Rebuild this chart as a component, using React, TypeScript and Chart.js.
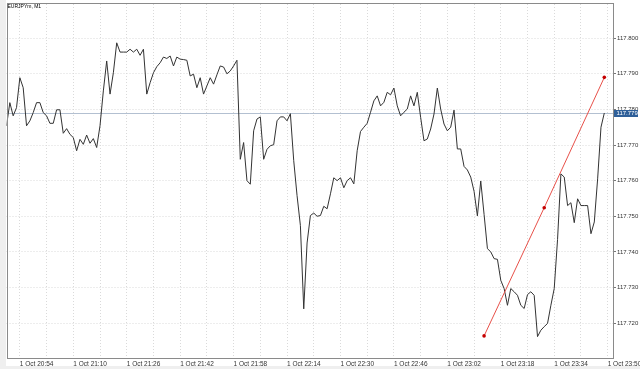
import React, { useEffect, useRef } from "react";
import { Chart, registerables } from "chart.js";

Chart.register(...registerables);

const symbolTitle = "EURJPYm, M1";

// One close per M1 bar, 1 Oct 20:50 .. 23:49
const closes: number[] = [
  117.7754, 117.7819, 117.7782, 117.7805, 117.7889, 117.7861, 117.7754, 117.7768, 117.7791, 117.7819,
  117.7819, 117.7791, 117.7782, 117.7761, 117.7761, 117.7799, 117.7799, 117.7733, 117.7746, 117.773,
  117.7721, 117.7684, 117.7716, 117.7702, 117.7728, 117.7705, 117.7718, 117.7693, 117.7754, 117.7852,
  117.7936, 117.7843, 117.7903, 117.7987, 117.7961, 117.7961, 117.7961, 117.7969, 117.7961, 117.7969,
  117.7952, 117.7969, 117.7843, 117.7875, 117.7903, 117.792, 117.7931, 117.7947, 117.7943, 117.795,
  117.7922, 117.7947, 117.7941, 117.794, 117.7938, 117.7894, 117.7899, 117.7861, 117.7889, 117.7843,
  117.7866, 117.7889, 117.7871, 117.7897, 117.7922, 117.7919, 117.79, 117.7908, 117.7922, 117.7938,
  117.766, 117.7707, 117.76, 117.759, 117.774, 117.7773, 117.7779, 117.766, 117.7688, 117.7698,
  117.7701, 117.7768, 117.7779, 117.7779, 117.7768, 117.7788, 117.7656, 117.7558, 117.7474, 117.724,
  117.7425, 117.7502, 117.7509, 117.75, 117.7502, 117.7528, 117.7521, 117.7563, 117.7608, 117.76,
  117.7608, 117.758, 117.76, 117.7608, 117.7591, 117.7684, 117.7738, 117.775, 117.7761, 117.7792,
  117.7824, 117.7838, 117.781, 117.782, 117.7848, 117.7841, 117.786, 117.781, 117.7782, 117.7792,
  117.7801, 117.7838, 117.781, 117.7848, 117.7778, 117.7712, 117.7717, 117.7745, 117.7787, 117.786,
  117.7801, 117.7759, 117.774, 117.775, 117.7798, 117.7689, 117.7689, 117.764, 117.763, 117.761,
  117.757, 117.7501, 117.7599, 117.7505, 117.7409, 117.74, 117.7381, 117.7379, 117.732, 117.7297,
  117.725, 117.7297, 117.7288, 117.7278, 117.725, 117.7241, 117.728, 117.7288, 117.7278, 117.7162,
  117.718, 117.719, 117.7199, 117.725, 117.7297, 117.7435, 117.7619, 117.761, 117.753, 117.7538,
  117.7482, 117.7549, 117.753, 117.753, 117.753, 117.7451, 117.7484, 117.7605, 117.775, 117.779,
];

// Trend line anchors (bar index, price)
const trendBars: number[] = [143, 161, 179];
const trendPrices: number[] = [117.7164, 117.7524, 117.789];

const currentPrice = 117.779;

const yMin = 117.7102;
const yMax = 117.8096;
const yTickValues: number[] = [117.72, 117.73, 117.74, 117.75, 117.76, 117.77, 117.78, 117.79, 117.8];

const xMin = 0;
const xMax = 181.6;
const xGridBars: number[] = [
  4, 12, 20, 28, 36, 44, 52, 60, 68, 76, 84, 92, 100, 108, 116, 124, 132, 140, 148, 156, 164, 172, 180,
];
const xTickLabels: string[] = [
  "1 Oct 20:54", "1 Oct 21:10", "1 Oct 21:26", "1 Oct 21:42", "1 Oct 21:58", "1 Oct 22:14",
  "1 Oct 22:30", "1 Oct 22:46", "1 Oct 23:02", "1 Oct 23:18", "1 Oct 23:34", "1 Oct 23:50",
];

const FONT = '"Liberation Sans", Arial, sans-serif';

const chromePlugin = {
  id: "mtChrome",
  beforeDraw(chart: any) {
    const { ctx, width, height } = chart;
    ctx.save();
    ctx.fillStyle = "#efefef";
    ctx.fillRect(0, 0, width, height);
    ctx.fillStyle = "#ffffff";
    ctx.fillRect(6, 0, width - 6, 366);
    ctx.restore();
  },
  beforeDatasetsDraw(chart: any) {
    const { ctx, chartArea, scales } = chart;
    const y = Math.round(scales.y.getPixelForValue(currentPrice)) + 0.5;
    ctx.save();
    ctx.strokeStyle = "#b3c0d1";
    ctx.lineWidth = 1;
    ctx.beginPath();
    ctx.moveTo(chartArea.left, y);
    ctx.lineTo(chartArea.right, y);
    ctx.stroke();
    ctx.restore();
  },
  afterDraw(chart: any) {
    const { ctx, chartArea, scales } = chart;
    ctx.save();
    // frame
    ctx.strokeStyle = "#8a8a8a";
    ctx.lineWidth = 1;
    const l = Math.round(chartArea.left) + 0.5;
    const t = Math.round(chartArea.top) - 0.5;
    const r = Math.round(chartArea.right) + 0.5;
    const b = Math.round(chartArea.bottom) + 0.5;
    ctx.strokeRect(l, t, r - l, b - t);
    // price tag
    const py = scales.y.getPixelForValue(currentPrice);
    ctx.fillStyle = "#2e5f99";
    ctx.fillRect(r + 0.5, Math.round(py) - 3, 24, 7);
    ctx.fillStyle = "#ffffff";
    ctx.font = `6px ${FONT}`;
    ctx.textBaseline = "middle";
    ctx.textAlign = "left";
    ctx.fillText(currentPrice.toFixed(3), r + 3, Math.round(py) + 0.5);
    // title
    ctx.fillStyle = "#000000";
    ctx.font = `5px ${FONT}`;
    ctx.textBaseline = "top";
    ctx.fillText(symbolTitle, 7.5, 4);
    ctx.restore();
  },
};

export default function App() {
  const ref = useRef<HTMLCanvasElement | null>(null);

  useEffect(() => {
    if (!ref.current) return;
    const chart = new Chart(ref.current, {
      type: "line",
      data: {
        datasets: [
          {
            label: "Trend",
            data: trendBars.map((b, i) => ({ x: b, y: trendPrices[i] })),
            borderColor: "#e8514a",
            borderWidth: 1,
            pointRadius: 1.8,
            pointBackgroundColor: "#c40000",
            pointBorderWidth: 0,
            tension: 0,
            order: 0,
          },
          {
            label: "EURJPYm",
            data: closes.map((v, i) => ({ x: i, y: v })),
            borderColor: "#333333",
            borderWidth: 1,
            pointRadius: 0,
            tension: 0,
            order: 1,
          },
        ],
      },
      options: {
        animation: false,
        responsive: false,
        devicePixelRatio: 1,
        layout: { padding: { left: 6.5, top: 3, right: 0, bottom: 0 } },
        plugins: { legend: { display: false }, tooltip: { enabled: false } },
        events: [],
        scales: {
          x: {
            type: "linear",
            min: xMin,
            max: xMax,
            afterBuildTicks: (s: any) => {
              s.ticks = xGridBars.map((v) => ({ value: v }));
            },
            afterFit: (s: any) => {
              s.height = 11;
              s.paddingLeft = 0;
              s.paddingRight = 0;
            },
            ticks: {
              autoSkip: false,
              maxRotation: 0,
              minRotation: 0,
              align: "start",
              padding: 2,
              color: "#333333",
              font: { size: 6.5, family: FONT },
              callback: (_v: any, i: number) => (i % 2 === 0 ? xTickLabels[i / 2] : ""),
            },
            grid: { color: "#dadada", lineWidth: 1, drawTicks: false },
            border: { display: false, dash: [1, 2] },
          },
          y: {
            type: "linear",
            position: "right",
            min: yMin,
            max: yMax,
            afterBuildTicks: (s: any) => {
              s.ticks = yTickValues.map((v) => ({ value: v }));
            },
            afterFit: (s: any) => {
              s.width = 27;
              s.paddingTop = 0;
              s.paddingBottom = 0;
            },
            ticks: {
              autoSkip: false,
              padding: 1,
              color: "#333333",
              font: { size: 6, family: FONT },
              callback: (v: any) => Number(v).toFixed(3),
            },
            grid: {
              color: "#dadada",
              lineWidth: 1,
              drawTicks: true,
              tickLength: 3,
              tickColor: "#777777",
              tickBorderDash: [],
            },
            border: { display: false, dash: [1, 2] },
          },
        },
      },
      plugins: [chromePlugin],
    });
    return () => chart.destroy();
  }, []);

  return (
    <canvas
      ref={ref}
      width={640}
      height={369}
      style={{ position: "absolute", left: 0, top: 0, width: 640, height: 369 }}
    />
  );
}
